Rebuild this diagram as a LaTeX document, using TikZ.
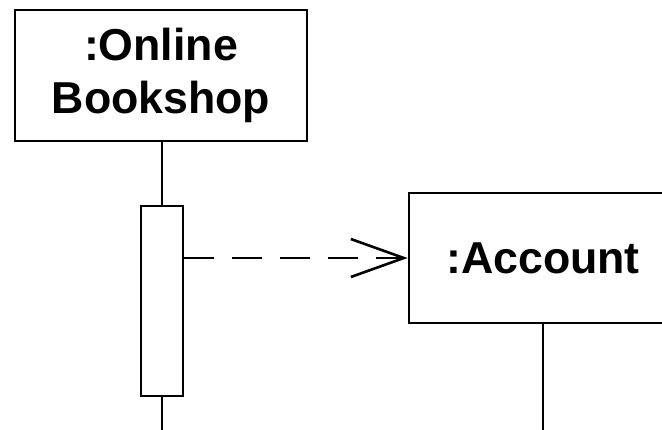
\documentclass[tikz,border=0pt]{standalone}
\usepackage{fontspec}
\setmainfont{Liberation Sans}
\usetikzlibrary{arrows.meta}
\begin{document}
\begin{tikzpicture}[x=1pt,y=-1pt,
  lifebox/.style={draw=black,line width=2.6pt,fill=white,inner sep=0pt,
    font=\fontsize{44.7}{53}\selectfont\bfseries,align=center},
  activation/.style={draw=black,line width=2.6pt,fill=white,inner sep=0pt,
    minimum width=42pt,minimum height=190pt},
  lifeline/.style={draw=black,line width=2.6pt},
  message/.style={draw=black,line width=2.6pt,dash pattern=on 30pt off 18pt,
    -{Straight Barb[length=53pt,width=38pt,line width=2.6pt]}}]
\clip (0,0) rectangle (662,429);
\useasboundingbox (0,0) rectangle (662,429);

% lifeline heads
\node[lifebox,minimum width=292pt,minimum height=131pt] (shop) at (161,75.5)
  {:Online\\Bookshop};
\node[lifebox,minimum width=268pt,minimum height=130pt] (acct) at (543,258)
  {:Account};

% activation bar on the bookshop lifeline
\node[activation] (act) at (162,301) {};
\coordinate (shopend) at (162,432);
\coordinate (acctend) at (543,432);

% lifelines
\draw[lifeline] (shop.south -| act.north) -- (act.north);
\draw[lifeline] (act.south) -- (shopend);
\draw[lifeline] (acct.south) -- (acctend);

% create message
\draw[message] (act.east |- acct.west) -- (acct.west);
\end{tikzpicture}
\end{document}
